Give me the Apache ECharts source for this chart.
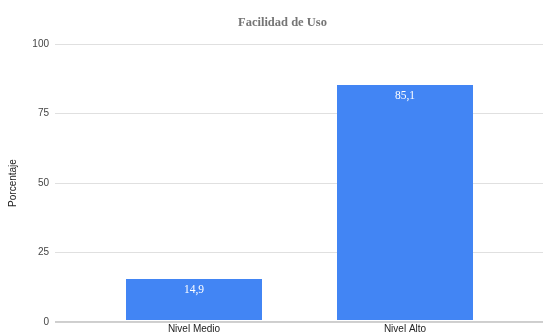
<!DOCTYPE html>
<html>
<head>
<meta charset="utf-8">
<script src="https://cdn.jsdelivr.net/npm/echarts@6/dist/echarts.min.js"></script>
<style>html,body{margin:0;padding:0;background:#fff;}#c{width:544px;height:334px;}</style>
</head>
<body>
<div id="c"></div>
<script>
const categories = ['Nivel Medio', 'Nivel Alto'];
const values = [14.9, 85.1];
const yTicks = [0, 25, 50, 75, 100];

const chart = echarts.init(document.getElementById('c'), null, {renderer: 'canvas'});
const font = 'Liberation Sans, Arial, sans-serif';
chart.setOption({
  animation: false,
  backgroundColor: '#ffffff',
  title: {
    text: 'Facilidad de Uso',
    left: 233, top: 11,
    textStyle: {fontFamily: 'Liberation Serif, Times New Roman, serif', fontSize: 12.5, fontWeight: 'bold', color: '#757575'}
  },
  grid: [
    {left: 52, right: 1, top: 44, bottom: 12, containLabel: false},
    {left: 88.5, right: 33.5, top: 44, bottom: 12, containLabel: false}
  ],
  xAxis: [
    {gridIndex: 0, type: 'value', min: 0, max: 1, show: true,
      axisLine: {show: false}, axisTick: {show: false}, axisLabel: {show: false}, splitLine: {show: false}},
    {gridIndex: 1, type: 'category', data: categories,
      axisLine: {show: false}, axisTick: {show: false},
      axisLabel: {fontFamily: font, fontSize: 10, color: '#222', margin: 4}}
  ],
  yAxis: [
    {gridIndex: 0, type: 'value', min: yTicks[0], max: yTicks[yTicks.length - 1], interval: 25,
      name: 'Porcentaje', nameLocation: 'middle', nameGap: 37, nameRotate: 90,
      nameTextStyle: {fontFamily: font, fontSize: 10, color: '#222'},
      axisLine: {show: false}, axisTick: {show: false},
      axisLabel: {fontFamily: font, fontSize: 10, color: '#444', margin: 6},
      splitLine: {lineStyle: {color: '#e0e0e0', width: 1}}},
    {gridIndex: 1, type: 'value', min: 0, max: 100, show: false}
  ],
  series: [
    {type: 'line', xAxisIndex: 0, yAxisIndex: 0, data: [[0, 0], [1, 0]], symbol: 'none',
      lineStyle: {color: '#9e9e9e', width: 1.2}, silent: true, z: 5},
    {type: 'bar', xAxisIndex: 1, yAxisIndex: 1, data: values, barWidth: 136,
      itemStyle: {color: '#4285F4'},
      label: {show: true, position: 'insideTop', distance: 5, color: '#ffffff',
        fontFamily: 'Liberation Serif, Times New Roman, serif', fontSize: 11.5,
        formatter: p => String(p.value).replace('.', ',')}}
  ]
});
</script>
</body>
</html>
